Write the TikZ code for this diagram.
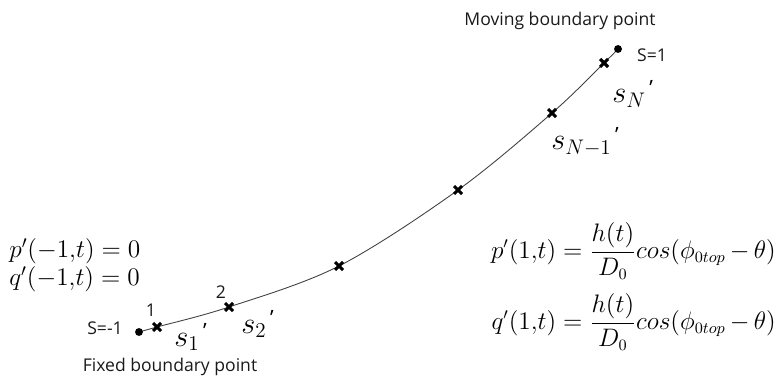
\documentclass[tikz,border=0pt]{standalone}
\usepackage{fontspec}
\setsansfont{Open Sans}
\usetikzlibrary{positioning,calc}
\definecolor{CurveGray}{HTML}{404040}
\definecolor{LabelDark}{HTML}{1A1A1A}

\newcommand{\sprime}[1]{$s_{#1}$\hspace{2pt}\raisebox{0.6ex}{\sffamily\fontsize{12}{14}\selectfont '}}

\begin{document}
\begin{tikzpicture}[
    x=0.02cm, y=-0.02cm,
    curve/.style={draw=CurveGray, line width=0.5pt},
    endpt/.style={circle, fill=black, inner sep=0pt, minimum size=4.5pt},
    crossmark/.style={line width=1.8pt, black},
    sflabel/.style={font=\sffamily\fontsize{10}{12}\selectfont, text=LabelDark, inner sep=0pt},
    mathlabel/.style={font=\fontsize{14}{17}\selectfont, inner sep=0pt},
    slabel/.style={font=\fontsize{17}{20}\selectfont, inner sep=0pt, anchor=base west},
    bclabel/.style={font=\fontsize{13.5}{16}\selectfont, inner sep=0pt, anchor=east}
  ]
    \useasboundingbox (0,0) rectangle (780,381);

    % Boundary ends and interior points
    \coordinate (sA) at (139,332);
    \coordinate (m1) at (157,327);
    \coordinate (m2) at (229,307);
    \coordinate (m3) at (339,266);
    \coordinate (m4) at (458,190);
    \coordinate (m5) at (552,113);
    \coordinate (m6) at (604,63);
    \coordinate (sB) at (618,49);

    % The curve
    \draw[curve] plot[smooth, tension=0.55] coordinates {(sA) (m1) (m2) (m3) (m4) (m5) (m6) (sB)};
    \node[endpt] (dotA) at (sA) {};
    \node[endpt] (dotB) at (sB) {};

    % Crosses
    \foreach \p in {m1,m2,m3,m4,m5,m6}{
      \draw[crossmark] ($(\p)+(-4,-4)$) -- ($(\p)+(4,4)$);
      \draw[crossmark] ($(\p)+(-4,4)$) -- ($(\p)+(4,-4)$);
    }

    % Fixed end
    \node[sflabel] (sminus) at (105,328) {S=-1};
    \node[sflabel] (one) at (151,310) {1};
    \node[sflabel] (two) at (221,292) {2};
    \node[slabel] (s1) at (174,346) {\sprime{1}};
    \node[slabel] (s2) at (241,333) {\sprime{2}};
    \node[sflabel] (fixed) at (170,367) {Fixed boundary point};

    % Moving end
    \node[sflabel] (moving) at (560,21) {Moving boundary point};
    \node[sflabel] (splus) at (652,55) {S=1};
    \node[slabel] (sN) at (612,103) {\sprime{N}};
    \node[slabel] (sN1) at (551,150) {\sprime{N-1}};

    % Boundary conditions
    \node[mathlabel, anchor=west] (pleft) at (9,251) {$p'(-1{,}t)=0$};
    \node[mathlabel, anchor=west] (qleft) at (9,279) {$q'(-1{,}t)=0$};
    \node[bclabel] (pright) at (776,251)
      {$\displaystyle p'(1{,}t)=\frac{h(t)}{D_0}cos(\phi_{0top}\,{-}\,\theta)$};
    \node[bclabel] (qright) at (776,322)
      {$\displaystyle q'(1{,}t)=\frac{h(t)}{D_0}cos(\phi_{0top}\,{-}\,\theta)$};
  \end{tikzpicture}
\end{document}
